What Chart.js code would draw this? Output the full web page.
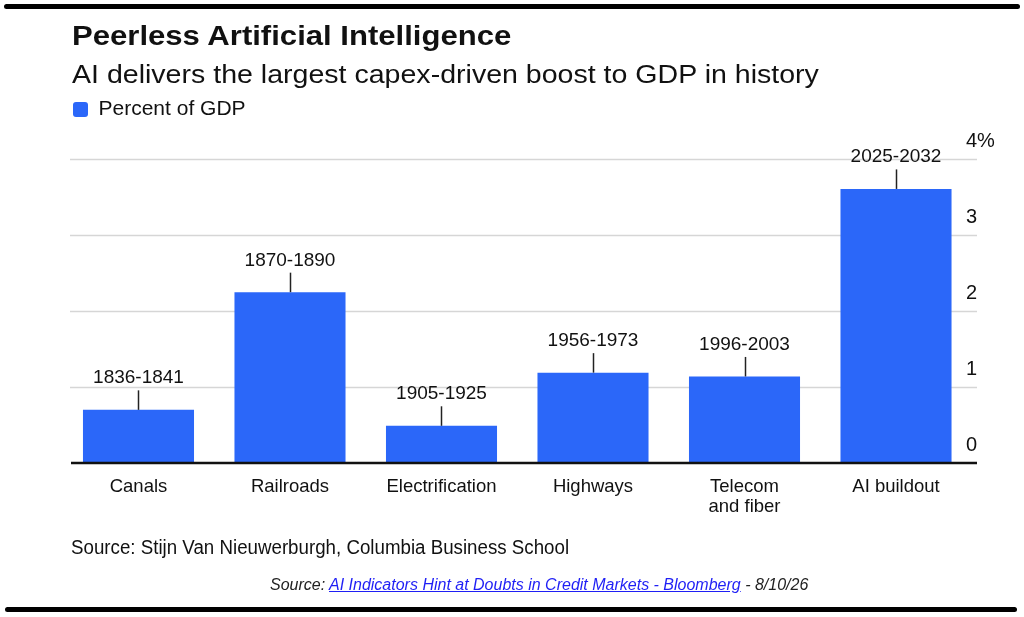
<!DOCTYPE html>
<html>
<head>
<meta charset="utf-8">
<script src="https://cdn.jsdelivr.net/npm/chart.js@4.4.1/dist/chart.umd.min.js"></script>
<style>
  html, body { margin: 0; padding: 0; background: #ffffff; }
  body { width: 1024px; height: 617px; position: relative; overflow: hidden; font-family: 'Liberation Sans', Arial, Helvetica, sans-serif; color: #111; }
  #chart { position: absolute; left: 0; top: 0; }
  .rule { position: absolute; background: #000; border-radius: 3px; }
  .txt { position: absolute; white-space: nowrap; line-height: 1; transform-origin: 0 0; }
  #title { left: 72px; top: 22.4px; font-size: 27.5px; font-weight: bold; transform: scaleX(1.13); }
  #subtitle { left: 72px; top: 61.5px; font-size: 25px; transform: scaleX(1.142); }
  #source1 { left: 71px; top: 537.8px; font-size: 19.5px; transform: scaleX(0.96); }
  #source2 { left: 270px; top: 576.5px; font-size: 16px; font-style: italic; color: #222; }
  #source2 a { color: #1f1ff5; text-decoration: underline; }
</style>
</head>
<body>
<canvas id="chart" width="1024" height="617"></canvas>
<div class="rule" style="left:4px; top:4px; width:1016px; height:5px;"></div>
<div class="txt" id="title">Peerless Artificial Intelligence</div>
<div class="txt" id="subtitle">AI delivers the largest capex-driven boost to GDP in history</div>
<div class="txt" id="source1">Source: Stijn Van Nieuwerburgh, Columbia Business School</div>
<div class="txt" id="source2">Source: <a href="#">AI Indicators Hint at Doubts in Credit Markets - Bloomberg</a> - 8/10/26</div>
<div class="rule" style="left:5px; top:607px; width:1012px; height:5px;"></div>
<script>
// ---- data ----
const categories = ['Canals', 'Railroads', 'Electrification', 'Highways', ['Telecom', 'and fiber'], 'AI buildout'];
const periods = ['1836-1841', '1870-1890', '1905-1925', '1956-1973', '1996-2003', '2025-2032'];
const percentOfGDP = [0.70, 2.25, 0.49, 1.19, 1.14, 3.61];
const yTickValues = [0, 1, 2, 3, 4];
const yTickLabels = ['0', '1', '2', '3', '4%'];
const seriesLabel = 'Percent of GDP';

const BAR_BLUE = '#2b67f9';
Chart.defaults.font.family = "'Liberation Sans', Arial, Helvetica, sans-serif";
Chart.defaults.color = '#111';

// points built from the named arrays (category index on a linear x axis)
const barPoints = percentOfGDP.map((v, i) => ({ x: i, y: v }));

const legendGap = {
  id: 'legendGap',
  beforeLayout(chart) {
    const lg = chart.legend;
    if (lg && !lg._gapPatched) {
      const fit = lg.fit;
      lg.fit = function () { fit.call(this); this.height += 29.3; };
      lg._gapPatched = true;
    }
  }
};

const gridPlugin = {
  id: 'customGrid',
  beforeDatasetsDraw(chart) {
    const { ctx, chartArea } = chart;
    const y = chart.scales.y;
    ctx.save();
    ctx.strokeStyle = '#d6d6d6';
    ctx.lineWidth = 1.5;
    yTickValues.forEach(v => {
      if (v === 0) return;
      const py = Math.round(y.getPixelForValue(v)) + 0.5;
      ctx.beginPath();
      ctx.moveTo(chartArea.left + 7, py);
      ctx.lineTo(chartArea.right + 11, py);
      ctx.stroke();
    });
    ctx.restore();
  },
  afterDatasetsDraw(chart) {
    const { ctx, chartArea } = chart;
    const y = chart.scales.y;
    ctx.save();
    // baseline
    const p0 = y.getPixelForValue(0);
    ctx.strokeStyle = '#111';
    ctx.lineWidth = 2.5;
    ctx.beginPath();
    ctx.moveTo(chartArea.left + 8, p0);
    ctx.lineTo(chartArea.right + 11, p0);
    ctx.stroke();
    // callouts
    const meta = chart.getDatasetMeta(0);
    ctx.font = "19px 'Liberation Sans', Arial, sans-serif";
    ctx.fillStyle = '#111';
    ctx.textAlign = 'center';
    ctx.textBaseline = 'alphabetic';
    meta.data.forEach((bar, i) => {
      const x = Math.round(bar.x) + 0.5;
      const top = bar.y;
      ctx.strokeStyle = '#222';
      ctx.lineWidth = 1.5;
      ctx.beginPath();
      ctx.moveTo(x, top - 19.5);
      ctx.lineTo(x, top);
      ctx.stroke();
      ctx.fillText(periods[i], bar.x, top - 26.5);
    });
    ctx.restore();
  }
};

new Chart(document.getElementById('chart'), {
  type: 'bar',
  data: {
    datasets: [{
      label: seriesLabel,
      data: barPoints,
      backgroundColor: BAR_BLUE,
      borderWidth: 0,
      barPercentage: 0.733,
      categoryPercentage: 1.0
    }]
  },
  options: {
    responsive: false,
    animation: false,
    layout: { padding: { left: 63, right: 0, top: 89, bottom: 0 } },
    plugins: {
      legend: {
        display: true,
        position: 'top',
        align: 'start',
        labels: {
          boxWidth: 15,
          boxHeight: 15,
          padding: 10,
          useBorderRadius: true,
          borderRadius: 3,
          color: '#111',
          font: { size: 21 }
        }
      },
      tooltip: { enabled: false }
    },
    scales: {
      x: {
        type: 'linear',
        offset: false,
        min: -0.4983,
        max: 5.4620,
        grid: { display: false, drawTicks: false },
        border: { display: false },
        afterBuildTicks: s => { s.ticks = categories.map((c, i) => ({ value: i })); },
        ticks: {
          padding: 14,
          color: '#111',
          font: { size: 18.5, lineHeight: 1.08 },
          maxRotation: 0,
          autoSkip: false,
          callback: (v) => categories[v]
        },
        afterFit: s => { s.height = 154; }
      },
      y: {
        position: 'right',
        min: 0,
        max: 4,
        grid: { display: false, drawTicks: false },
        border: { display: false },
        afterBuildTicks: s => { s.ticks = yTickValues.map(v => ({ value: v })); },
        ticks: {
          padding: 0,
          labelOffset: -17.5,
          color: '#111',
          font: { size: 20 },
          callback: (v) => yTickLabels[yTickValues.indexOf(v)]
        },
        afterFit: s => { s.width = 58; }
      }
    }
  },
  plugins: [legendGap, gridPlugin]
});
</script>
</body>
</html>
